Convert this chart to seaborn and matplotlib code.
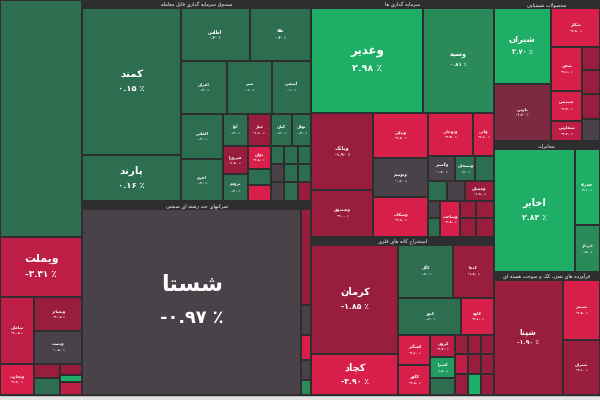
import numpy as np
import pandas as pd
import matplotlib
matplotlib.use("Agg")
import matplotlib.pyplot as plt
import seaborn as sns

# ---------------- data ----------------
tickers = [
    "فارس", "ویملت", "سامان", "وتجارت", "وبصادر", "وپست", "وکار", "وسینا", "وخاور", "ودی", "وآیند",
    "کمند", "پارند", "اطلس", "طلا", "افران", "سپر", "آتیمس", "الماس", "اهرم",
    "آوا", "عیار", "کیان", "نهال", "فیروزا", "ثروتم", "توان", "زر", "گوهر",
    "آساس", "کارین", "ثنا", "پادا", "رماس", "اعتماد", "کاج", "نارین", "سرو",
    "شستا", "وصنعت", "وامید", "وپارس", "وتوکا", "ورنا",
    "وغدیر", "وسپه", "وبانک", "وصندوق", "ونیکی", "وتوسم", "وسکاب", "وبوعلی", "واتی",
    "وگستر", "وسبحان", "وکبهمن", "وسمگا", "وآفری", "ومشان", "وسخراج", "وسرود", "وساخت",
    "ولیز", "وملل", "وثوق", "وگردش",
    "کرمان", "کچاد", "کگل", "کدما", "کنور", "کاوه", "کمنگنز", "کگهر", "کروی", "کسرا", "کبافق",
    "کترام", "کمرجان", "کپرور", "کزغال", "کطبس", "کلوند", "کایزد", "کفرآور", "کتوکا",
    "شیران", "پارس", "شکلر", "شفن", "شپدیس", "شفارس", "شخارک", "شکبیر", "شاراک", "شسینا",
    "اخابر", "همراه", "اپرداز",
    "شپنا", "شبندر", "شتران",
]
weights = [
    18723, 4740, 2211, 1023, 1564, 1518, 350, 425, 231, 147, 273,
    14454, 4554, 3657, 3286, 2392, 2340, 2080, 1890, 1764,
    800, 736, 704, 608, 700, 675, 529, 368, 368,
    252, 252, 234, 252, 252, 234, 266, 266, 247,
    40700, 950, 300, 250, 200, 150,
    11648, 7280, 4774, 2852, 2475, 2145, 2145, 1935, 860,
    675, 500, 450, 380, 360, 560, 204, 216, 700,
    272, 289, 288, 306,
    9657, 3567, 2970, 2160, 2331, 1184, 992, 960, 575, 525, 425,
    260, 260, 240, 260, 260, 240, 273, 273, 252,
    4425, 3363, 1950, 1376, 960, 640, 414, 414, 450, 396,
    10209, 1976, 1222,
    8165, 2280, 2090,
]
changes = [
    0.30, -3.31, -3.05, -4.20, -2.05, -0.50, -2.00, 0.30, -1.80, 3.00, -2.80,
    0.15, 0.16, 0.40, 0.40, 0.20, 0.10, 0.10, 0.20, 0.30,
    0.20, -1.60, 0.30, 0.20, -1.80, 0.20, -3.50, 0.30, -3.60,
    0.20, 0.30, 0.20, -0.30, 0.20, 0.30, -0.20, 0.20, -2.00,
    -0.97, -2.00, -0.40, -3.60, -0.30, 0.50,
    2.98, 0.81, -1.90, -2.00, -3.80, -0.40, -3.90, -3.70, -3.60,
    -0.30, 0.30, 0.40, 0.30, -0.40, -1.90, -0.30, 0.30, -3.80,
    -2.00, -2.00, -1.90, -2.10,
    -1.85, -3.90, 0.40, -1.80, 0.30, -3.60, -3.60, -3.50, -3.20, 1.80, 0.20,
    -2.00, -2.00, -1.90, -2.80, -2.00, -2.00, -2.00, 2.60, -2.00,
    2.70, -1.20, -3.90, -3.60, -3.70, -3.20, -1.80, -1.90, -1.70, -0.30,
    2.83, 2.60, 0.90,
    -1.90, -3.80, -2.10,
]
sector_titles = [
    "صندوق سرمایه گذاری قابل معامله",
    "شرکتهای چند رشته ای صنعتی",
    "سرمایه گذاری ها",
    "استخراج کانه های فلزی",
    "محصولات شیمیایی",
    "مخابرات",
    "فرآورده های نفتی، کک و سوخت هسته ای",
]
hidden_labels = ["فارس"]

# color classes (change %) -> colours
change_bins = [-3.45, -2.5, -1.5, -1.0, 0.0, 0.5, 1.5, 2.5]
class_colors = ["#d81f4a", "#be1e46", "#991e3d", "#7b2a42", "#4a4249",
                "#2d6e50", "#2a8a5a", "#229c60", "#1fae66"]

# ---------------- nesting (treemap hierarchy) ----------------
T = sector_titles
HIER = ('H', [
    ('H', [
        ('V', ["فارس", ('V', ["ویملت", ('H', [
            ('V', ["سامان", "وتجارت"]),
            ('V', ["وبصادر", "وپست", ('H', [('V', ["وکار", "وسینا"]), ('V', ["وخاور", "ودی", "وآیند"])])]),
        ])])]),
        ('V', [
            ('S', T[0], 'H', [
                ('V', ["کمند", "پارند"]),
                ('V', [
                    ('H', ["اطلس", "طلا"]),
                    ('H', ["افران", "سپر", "آتیمس"]),
                    ('H', [
                        ('V', ["الماس", "اهرم"]),
                        ('V', [
                            ('H', ["آوا", "عیار", "کیان", "نهال"]),
                            ('H', [
                                ('V', ["فیروزا", "ثروتم"]),
                                ('V', ["توان", "زر", "گوهر"]),
                                ('V', [('H', ["آساس", "کارین", "ثنا"]),
                                       ('H', ["پادا", "رماس", "اعتماد"]),
                                       ('H', ["کاج", "نارین", "سرو"])]),
                            ]),
                        ]),
                    ]),
                ]),
            ]),
            ('S', T[1], 'H', ["شستا", ('V', ["وصنعت", "وامید", "وپارس", "وتوکا", "ورنا"])]),
        ]),
    ]),
    ('V', [
        ('S', T[2], 'V', [
            ('H', ["وغدیر", "وسپه"]),
            ('H', [
                ('V', ["وبانک", "وصندوق"]),
                ('V', ["ونیکی", "وتوسم", "وسکاب"]),
                ('V', [
                    ('H', ["وبوعلی", "واتی"]),
                    ('H', ["وگستر", "وسبحان", "وکبهمن"]),
                    ('H', ["وسمگا", "وآفری", "ومشان"]),
                    ('H', [('V', ["وسخراج", "وسرود"]), "وساخت",
                           ('V', [('H', ["ولیز", "وملل"]), ('H', ["وثوق", "وگردش"])])]),
                ]),
            ]),
        ]),
        ('S', T[3], 'H', [
            ('V', ["کرمان", "کچاد"]),
            ('V', [
                ('H', ["کگل", "کدما"]),
                ('H', ["کنور", "کاوه"]),
                ('H', [
                    ('V', ["کمنگنز", "کگهر"]),
                    ('V', ["کروی", "کسرا", "کبافق"]),
                    ('V', [('H', ["کترام", "کمرجان", "کپرور"]),
                           ('H', ["کزغال", "کطبس", "کلوند"]),
                           ('H', ["کایزد", "کفرآور", "کتوکا"])]),
                ]),
            ]),
        ]),
    ]),
    ('V', [
        ('S', T[4], 'H', [
            ('V', ["شیران", "پارس"]),
            ('V', ["شکلر", ('H', [('V', ["شفن", "شپدیس", "شفارس"]),
                                  ('V', ["شخارک", "شکبیر", "شاراک", "شسینا"])])]),
        ]),
        ('S', T[5], 'H', ["اخابر", ('V', ["همراه", "اپرداز"])]),
        ('S', T[6], 'H', ["شپنا", ('V', ["شبندر", "شتران"])]),
    ]),
])

# ---------------- Persian shaping for matplotlib ----------------
F = {
    'آ': ('\uFE81', '\uFE82', None, None), 'ا': ('\uFE8D', '\uFE8E', None, None),
    'ب': ('\uFE8F', '\uFE90', '\uFE91', '\uFE92'), 'پ': ('\uFB56', '\uFB57', '\uFB58', '\uFB59'),
    'ت': ('\uFE95', '\uFE96', '\uFE97', '\uFE98'), 'ث': ('\uFE99', '\uFE9A', '\uFE9B', '\uFE9C'),
    'ج': ('\uFE9D', '\uFE9E', '\uFE9F', '\uFEA0'), 'چ': ('\uFB7A', '\uFB7B', '\uFB7C', '\uFB7D'),
    'ح': ('\uFEA1', '\uFEA2', '\uFEA3', '\uFEA4'), 'خ': ('\uFEA5', '\uFEA6', '\uFEA7', '\uFEA8'),
    'د': ('\uFEA9', '\uFEAA', None, None), 'ذ': ('\uFEAB', '\uFEAC', None, None),
    'ر': ('\uFEAD', '\uFEAE', None, None), 'ز': ('\uFEAF', '\uFEB0', None, None),
    'ژ': ('\uFB8A', '\uFB8B', None, None),
    'س': ('\uFEB1', '\uFEB2', '\uFEB3', '\uFEB4'), 'ش': ('\uFEB5', '\uFEB6', '\uFEB7', '\uFEB8'),
    'ص': ('\uFEB9', '\uFEBA', '\uFEBB', '\uFEBC'), 'ض': ('\uFEBD', '\uFEBE', '\uFEBF', '\uFEC0'),
    'ط': ('\uFEC1', '\uFEC2', '\uFEC3', '\uFEC4'), 'ظ': ('\uFEC5', '\uFEC6', '\uFEC7', '\uFEC8'),
    'ع': ('\uFEC9', '\uFECA', '\uFECB', '\uFECC'), 'غ': ('\uFECD', '\uFECE', '\uFECF', '\uFED0'),
    'ف': ('\uFED1', '\uFED2', '\uFED3', '\uFED4'), 'ق': ('\uFED5', '\uFED6', '\uFED7', '\uFED8'),
    'ک': ('\uFB8E', '\uFB8F', '\uFB90', '\uFB91'), 'گ': ('\uFB92', '\uFB93', '\uFB94', '\uFB95'),
    'ل': ('\uFEDD', '\uFEDE', '\uFEDF', '\uFEE0'), 'م': ('\uFEE1', '\uFEE2', '\uFEE3', '\uFEE4'),
    'ن': ('\uFEE5', '\uFEE6', '\uFEE7', '\uFEE8'), 'ه': ('\uFEE9', '\uFEEA', '\uFEEB', '\uFEEC'),
    'و': ('\uFEED', '\uFEEE', None, None), 'ی': ('\uFBFC', '\uFBFD', '\uFBFE', '\uFBFF'),
}


def fa(text):
    s = text.replace('ك', 'ک').replace('ي', 'ی')
    out, i = [], 0
    while i < len(s):
        ch = s[i]
        prev = s[i - 1] if i > 0 else None
        jp = prev in F and F[prev][2] is not None
        if ch == 'ل' and i + 1 < len(s) and s[i + 1] in ('ا', 'آ'):
            if s[i + 1] == 'ا':
                out.append('\uFEFC' if jp else '\uFEFB')
            else:
                out.append('\uFEF6' if jp else '\uFEF5')
            i += 2
            continue
        if ch in F:
            nxt = s[i + 1] if i + 1 < len(s) else None
            jn = F[ch][2] is not None and nxt in F
            iso, fin, ini, med = F[ch]
            out.append(med if (jp and jn) else fin if jp else ini if jn else iso)
        else:
            out.append(ch)
        i += 1
    return ''.join(reversed(out))


PDIG = str.maketrans('0123456789', '۰۱۲۳۴۵۶۷۸۹')


def pct(c):
    return ('-' if c < 0 else '') + f"{abs(c):.2f}".translate(PDIG) + ' ٪'


# ---------------- layout ----------------
df = pd.DataFrame({"ticker": tickers, "weight": weights, "change": changes})
W = dict(zip(df.ticker, df.weight))
HEADER = 8.0


def total(node):
    if isinstance(node, str):
        return W[node]
    kids = node[3] if node[0] == 'S' else node[1]
    return sum(total(k) for k in kids)


tiles, headers = [], []


def layout(node, x0, y0, x1, y1):
    if isinstance(node, str):
        tiles.append((node, x0, y0, x1, y1))
        return
    if node[0] == 'S':
        _, title, d, kids = node
        headers.append((title, x0, y0, x1, y0 + HEADER))
        y0 += HEADER
    else:
        d, kids = node
    ws = np.array([total(k) for k in kids], dtype=float)
    edges = np.concatenate([[0], np.cumsum(ws)]) / ws.sum()
    for k, a, b in zip(kids, edges[:-1], edges[1:]):
        if d == 'H':
            layout(k, x0 + a * (x1 - x0), y0, x0 + b * (x1 - x0), y1)
        else:
            layout(k, x0, y0 + a * (y1 - y0), x1, y0 + b * (y1 - y0))


X_MAX, Y_MAX = 600.0, 395.0
layout(HIER, 0, 0, X_MAX, Y_MAX)

tile_df = pd.DataFrame(tiles, columns=["ticker", "x0", "y0", "x1", "y1"]).merge(df, on="ticker")
palette = sns.color_palette(class_colors)
tile_df["cls"] = np.digitize(tile_df["change"], change_bins)
tile_df["color"] = [palette[k] for k in tile_df["cls"]]

# ---------------- drawing ----------------
sns.set_theme(style="white")
plt.rcParams['font.family'] = ['DejaVu Sans']
fig = plt.figure(figsize=(6, 4), dpi=100, facecolor="#e4e4e4")
ax = fig.add_axes([0, 5 / 400, 1, 395 / 400])
ax.set_facecolor("#2e2d30")
ax.set_xlim(0, X_MAX)
ax.set_ylim(Y_MAX, 0)
ax.axis("off")
fig.patches.append(plt.Rectangle((0, 5 / 400), 1, 395 / 400, transform=fig.transFigure,
                                 color="#2e2d30", zorder=-1))

GAP = 1.0
ax.bar(x=tile_df.x0 + GAP, height=(tile_df.y1 - tile_df.y0) - 2 * GAP,
       width=(tile_df.x1 - tile_df.x0) - 2 * GAP, bottom=tile_df.y0 + GAP,
       align="edge", color=tile_df.color, linewidth=0)

label_size = {"شستا": 16, "ویملت": 8, "وغدیر": 8.5, "کمند": 7.5, "پارند": 7.5,
              "کرمان": 7, "کچاد": 7, "اخابر": 7, "شیران": 6, "شپنا": 5.5}
PX = 100 / 72
for r in tile_df.itertuples():
    w, h = r.x1 - r.x0, r.y1 - r.y0
    if r.ticker in hidden_labels or min(w, h) < 17 or w * h < 500:
        continue
    fs = label_size.get(r.ticker, float(np.clip(0.055 * np.sqrt(w * h), 3.0, 5.5)))
    cx, cy = (r.x0 + r.x1) / 2, (r.y0 + r.y1) / 2
    ax.text(cx, cy - 0.75 * fs * PX, fa(r.ticker), ha="center", va="center",
            color="white", fontsize=fs, fontweight="bold")
    ax.text(cx, cy + 0.7 * fs * PX, pct(r.change), ha="center", va="center",
            color="white", fontsize=fs * 0.8, fontweight="bold")

for title, x0, y0, x1, y1 in headers:
    t = ax.text((x0 + x1) / 2, (y0 + y1) / 2 + 0.5, fa(title), ha="center", va="center",
                color="white", fontsize=3.6, clip_on=True)
    fig.canvas.draw() if False else None

fig.savefig("out.png", dpi=100, facecolor=fig.get_facecolor())
